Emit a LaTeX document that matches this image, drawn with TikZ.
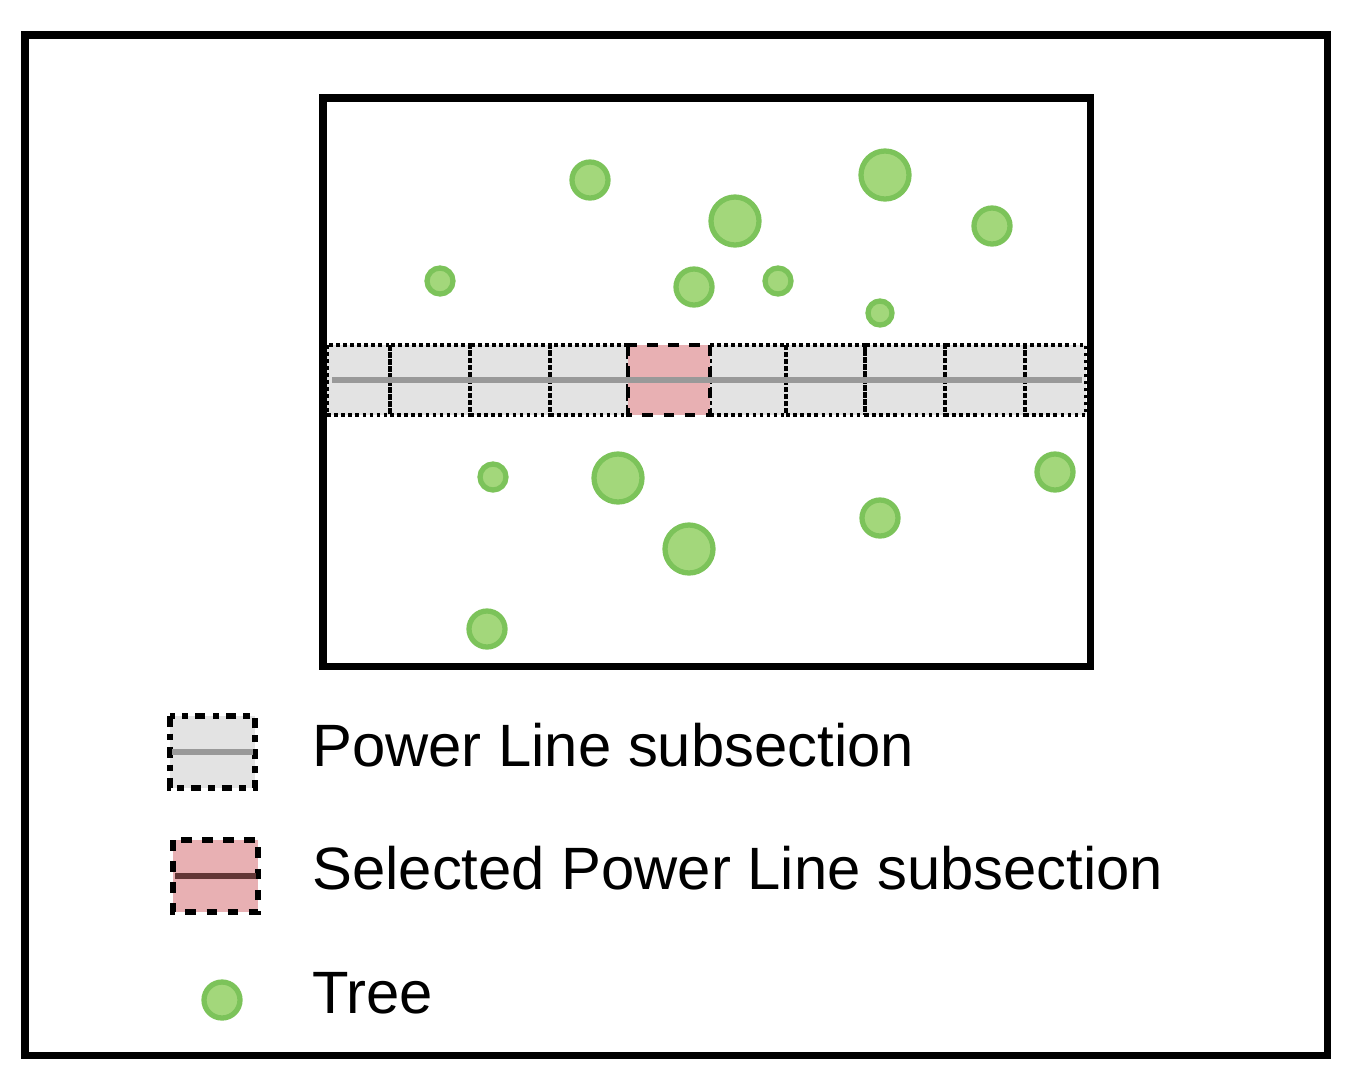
\documentclass[tikz,border=0pt]{standalone}
\usepackage{fontspec}
\setmainfont{Liberation Sans}
\definecolor{treefill}{HTML}{A3D77B}
\definecolor{treeline}{HTML}{7CC35A}
\definecolor{stripfill}{HTML}{E3E3E3}
\definecolor{selfill}{HTML}{E8B0B3}
\tikzset{
    tree/.style={fill=treefill, draw=treeline, line width=1.5pt},
    strip/.style={fill=stripfill, draw=none},
    cell/.style={draw=black, densely dotted, line width=1pt},
    selcell/.style={fill=selfill, draw=black, dashed, line width=1.2pt},
    wire/.style={draw=gray!80, line width=1.5pt},
    legtext/.style={anchor=west, font=\fontsize{17}{20}\selectfont}
}
\begin{document}
\begin{tikzpicture}[x=0.01cm, y=-0.01cm]
\useasboundingbox (0,0) rectangle (1358,1078);
% frames
\draw[line width=2pt] (25,35) rectangle (1327,1055);
\draw[line width=2pt] (323,98) rectangle (1090,666);
% power line strip
\fill[strip] (327,345) rectangle (1086,415);
\foreach \a/\b in {327/390,390/470,470/550,550/628,710/786,786/865,865/945,945/1025,1025/1086}
    \draw[cell] (\a,345) rectangle (\b,415);
\draw[selcell] (628,345) rectangle (710,415);
\draw[wire] (332,380) -- (1082,380);
% trees
\foreach \x/\y/\r in {590/180/18,735/221/24,885/175/24,992/226/18,440/281/13,694/287/18,
    778/281/13,880/313/12,493/477/13,618/478/24,689/549/24,880/518/18,1055/472/18,487/629/18}
    \draw[tree] (\x,\y) circle (\r);
% legend
\fill[stripfill] (170,716) rectangle (255,788);
\draw[line width=1.8pt, dash dot] (170,716) rectangle (255,788);
\draw[wire] (172,752) -- (253,752);
\fill[selfill] (173,840) rectangle (258,912);
\draw[line width=1.8pt, dashed] (173,840) rectangle (258,912);
\draw[draw=gray!70!red!60!black, line width=1.5pt] (175,876) -- (256,876);
\draw[tree] (222,1000) circle (18);
\node[legtext] (lsub) at (300,745) {Power Line subsection};
\node[legtext] (lsel) at (300,868) {Selected Power Line subsection};
\node[legtext] (ltree) at (300,993) {Tree};
\end{tikzpicture}
\end{document}
